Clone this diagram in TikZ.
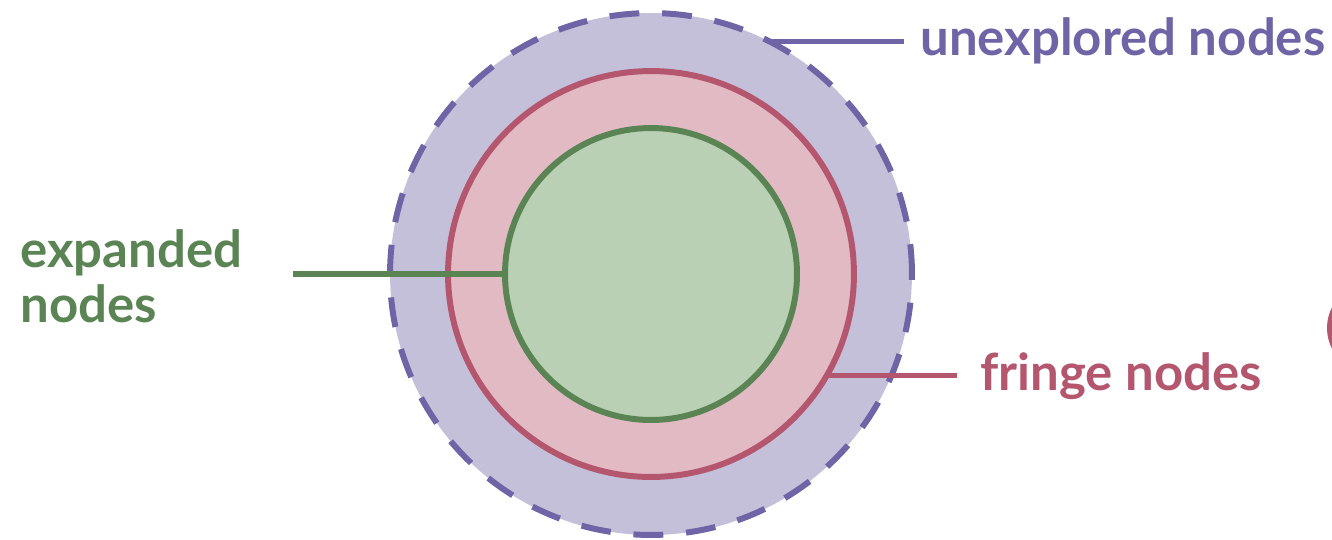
\documentclass[tikz,border=0pt]{standalone}
\usepackage{fontspec}
\setmainfont{Lato}
\definecolor{purpleline}{HTML}{6E64A6}
\definecolor{purplefill}{HTML}{C4C0DA}
\definecolor{redline}{HTML}{B4566E}
\definecolor{redfill}{HTML}{E2BAC4}
\definecolor{greenline}{HTML}{5A8454}
\definecolor{greenfill}{HTML}{B9D0B5}
\tikzset{
  ring/.style={circle,draw,line width=3.4pt,inner sep=0pt,outer sep=0pt},
  tag/.style={font=\fontsize{29}{31}\selectfont\bfseries,inner sep=0pt,align=left},
  lead/.style={line width=3.4pt}
}
\begin{document}
\begin{tikzpicture}[x=0.02cm,y=-0.02cm]
  \useasboundingbox (0,0) rectangle (1332,539);

  % nested sets of nodes
  \node[ring,draw=purpleline,fill=purplefill,dash pattern=on 17pt off 13pt,minimum size=10.44cm] (unexplored) at (651,274) {};
  \node[ring,draw=redline,fill=redfill,minimum size=8.12cm] (fringe) at (651,274) {};
  \node[ring,draw=greenline,fill=greenfill,minimum size=5.84cm] (expanded) at (651,274) {};

  % labels
  \node[tag,text=purpleline,anchor=base west] (unexploredlabel) at (920,55) {unexplored nodes};
  \node[tag,text=redline,anchor=base west] (fringelabel) at (980,390) {fringe nodes};
  \node[tag,text=greenline,anchor=base west] (expandedlabel) at (20,322) {expanded\\nodes};
  \coordinate (expandedend) at (293,274);

  % leaders
  \draw[lead,purpleline] (unexplored.63) -- ++(135,0);
  \draw[lead,redline] (fringe.-30) -- ++(130,0);
  \draw[lead,greenline] (expandedend) -- (expanded.west);

  % cut-off shape at the right edge
  \draw[lead,redline] (1372,328) ++(145:42) arc (145:215:42);
\end{tikzpicture}
\end{document}
